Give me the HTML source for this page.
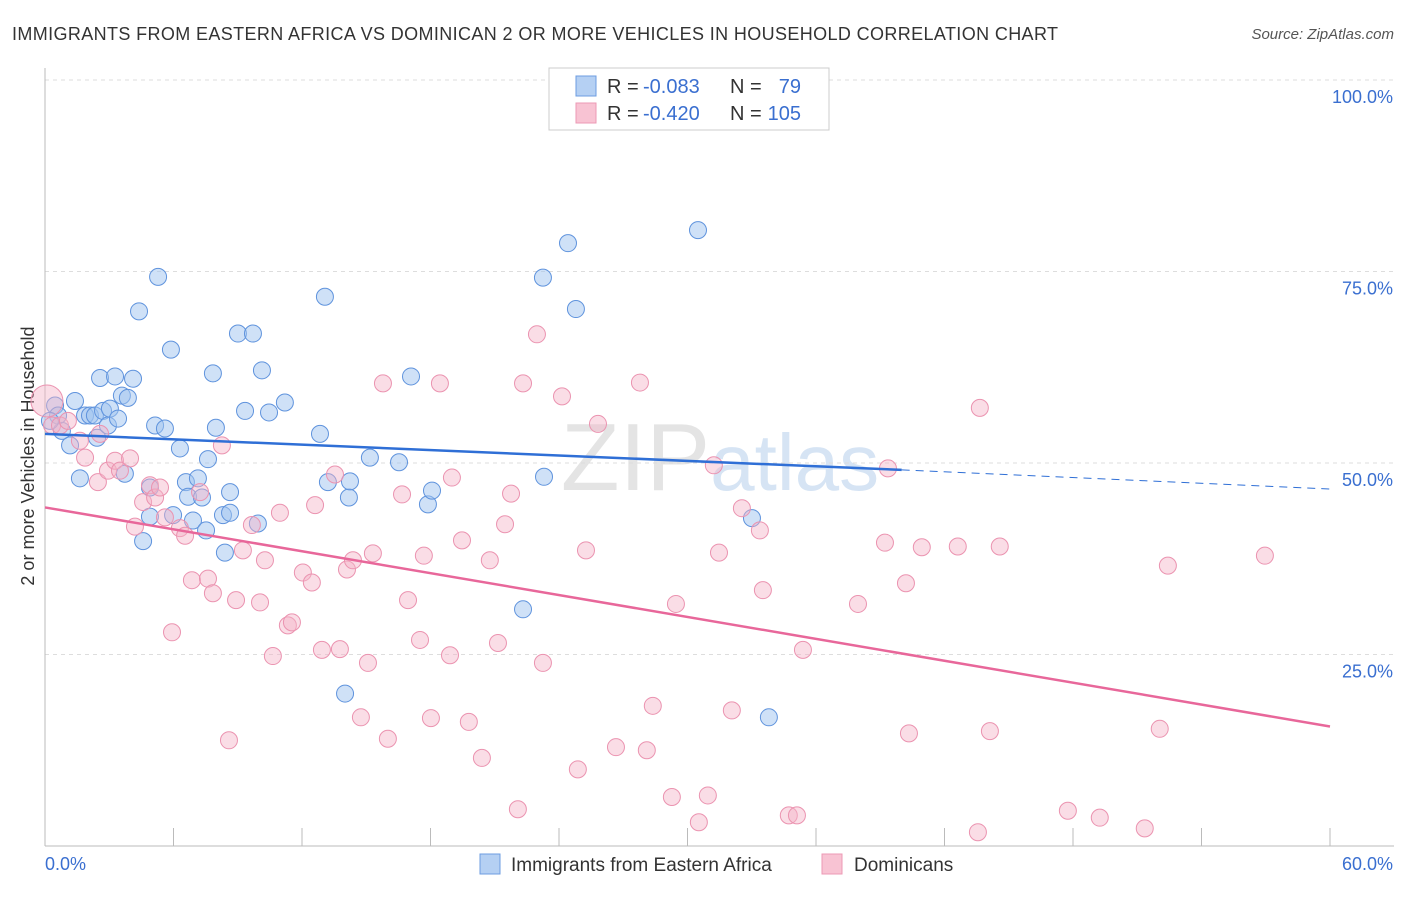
<!DOCTYPE html>
<html><head><meta charset="utf-8"><style>
body{margin:0;background:#fff;font-family:"Liberation Sans",sans-serif;}
svg text{font-family:"Liberation Sans",sans-serif;}
</style></head><body>
<svg id="c" width="1406" height="892">
<text x="12" y="40" font-size="18" fill="#333" textLength="1046">IMMIGRANTS FROM EASTERN AFRICA VS DOMINICAN 2 OR MORE VEHICLES IN HOUSEHOLD CORRELATION CHART</text>
<text x="1394" y="39" font-size="15" fill="#555" text-anchor="end" font-style="italic">Source: ZipAtlas.com</text>
<text x="34" y="456" font-size="18" fill="#333" text-anchor="middle" transform="rotate(-90 34 456)">2 or more Vehicles in Household</text>
<text x="720" y="490" font-size="96" fill="#e4e4e4" text-anchor="middle" font-family="Liberation Serif">ZIP<tspan fill="#d6e4f4" font-family="Liberation Sans" font-size="80">atlas</tspan></text>
<g id="grid"></g><g id="axes"></g><g id="pts"></g><g id="trend"></g>
<g>
<rect x="549" y="68" width="280" height="62" fill="#fff" stroke="#ccc"/>
<rect x="576" y="76" width="20" height="20" fill="#b5d0f3" stroke="#6d9ce0"/>
<rect x="576" y="103" width="20" height="20" fill="#f8c3d3" stroke="#ec9ab5"/>
<g font-size="20">
<text x="607" y="93" fill="#333">R =</text><text x="643" y="93" fill="#3a6fd0">-0.083</text>
<text x="730" y="93" fill="#333">N =</text><text x="801" y="93" fill="#3a6fd0" text-anchor="end">79</text></g>
<g font-size="20">
<text x="607" y="120" fill="#333">R =</text><text x="643" y="120" fill="#3a6fd0">-0.420</text>
<text x="730" y="120" fill="#333">N =</text><text x="801" y="120" fill="#3a6fd0" text-anchor="end">105</text></g>
</g>
<g>
<rect x="480" y="854" width="20" height="20" fill="#b5d0f3" stroke="#6d9ce0"/>
<text x="511" y="871" font-size="19" fill="#333">Immigrants from Eastern Africa</text>
<rect x="822" y="854" width="20" height="20" fill="#f8c3d3" stroke="#ec9ab5"/>
<text x="854" y="871" font-size="19" fill="#333">Dominicans</text>
</g>
</svg>
<script>
const blueX=[0.47,0.61,0.79,0.23,1.17,1.40,1.63,1.87,2.10,2.33,2.43,2.57,2.71,2.94,3.03,3.27,3.41,3.59,3.73,3.87,4.11,4.39,4.58,4.90,5.14,5.28,5.60,5.88,5.98,6.30,6.58,6.68,6.91,7.14,7.33,7.52,7.61,7.84,7.98,8.31,8.40,8.64,8.64,9.01,9.34,9.71,9.94,10.13,10.46,11.20,12.84,13.07,13.21,14.19,14.24,14.01,15.17,16.53,17.09,17.88,18.07,23.25,23.30,24.42,24.79,22.32,30.49,33.01,33.80,4.90];
const blueY=[57.5,56.2,54.2,55.5,52.3,58.1,48.0,56.2,56.2,56.2,53.3,61.1,56.8,54.9,57.1,61.3,55.8,58.8,48.6,58.5,61.0,69.8,39.8,46.8,54.9,74.3,54.5,64.8,43.2,51.9,47.5,45.6,42.5,48.0,45.5,41.2,50.5,61.7,54.6,43.2,38.3,43.5,46.2,66.9,56.8,66.9,42.1,62.1,56.6,57.9,53.8,71.7,47.5,45.5,47.6,19.9,50.7,50.1,61.3,44.6,46.4,74.2,48.2,78.7,70.1,30.9,80.4,42.8,16.8,43.0];
const pinkX=[0.09,0.33,0.70,1.07,1.63,1.87,2.47,2.57,2.94,3.27,3.50,3.97,4.20,4.58,4.90,5.14,5.37,5.60,5.93,6.30,6.54,6.86,7.24,7.61,7.84,8.26,8.59,8.92,9.24,9.66,10.04,10.27,10.64,10.97,11.34,11.53,12.04,12.46,12.61,12.93,13.54,13.77,14.10,14.38,14.75,15.08,15.31,15.78,16.01,16.67,16.95,17.51,17.69,18.02,18.44,18.91,19.00,19.47,19.79,20.40,20.77,21.15,21.48,21.76,22.08,22.32,22.97,23.25,24.14,24.88,25.26,25.82,26.66,27.78,28.10,28.38,29.27,29.46,30.53,30.95,31.23,31.47,32.07,32.54,33.38,33.52,34.73,35.11,35.39,37.96,39.22,39.36,40.20,40.34,40.94,42.62,43.56,43.65,44.12,44.58,47.76,49.25,51.35,52.05,52.43,56.96];
const pinkY=[58.1,54.9,54.9,55.5,52.9,50.7,47.5,53.8,49.0,50.3,49.0,50.6,41.7,44.9,47.1,45.5,46.8,42.9,27.9,41.5,40.5,34.7,46.2,34.9,33.0,52.3,13.8,32.1,38.6,41.9,31.8,37.3,24.8,43.5,28.8,29.2,35.7,34.4,44.5,25.6,48.5,25.7,36.1,37.3,16.8,23.9,38.2,60.4,14.0,45.9,32.1,26.9,37.9,16.7,60.4,24.9,48.1,39.9,16.2,11.5,37.3,26.5,42.0,46.0,4.8,60.4,66.8,23.9,58.7,10.0,38.6,55.1,12.9,60.5,12.5,18.3,6.4,31.6,3.1,6.6,49.7,38.3,17.7,44.1,41.2,33.4,4.0,4.0,25.6,31.6,39.6,49.3,34.3,14.7,39.0,39.1,1.8,57.2,15.0,39.1,4.6,3.7,2.3,15.3,36.6,37.9];
const yTicks=[25,50,75,100];
const yTickLabels=["25.0%","50.0%","75.0%","100.0%"];
const blueTrend=[53.8,49.1,46.6]; // at x=0, 40 (solid end), 60
const pinkTrend=[44.2,15.6]; // at x=0, 60
const NS="http://www.w3.org/2000/svg";
const sx=v=>45+v/60*1285, sy=v=>846-v/100*766;
function mk(p,t,a){const e=document.createElementNS(NS,t);for(const k in a)e.setAttribute(k,a[k]);document.getElementById(p).appendChild(e);return e;}
yTicks.forEach((t,i)=>{
 const l=mk('grid','line',{x1:45,x2:1394,y1:sy(t),y2:sy(t),stroke:'#ddd','stroke-dasharray':'4,4'});
 
 
 const tx=mk('grid','text',{x:1393,y:sy(t)+23,'font-size':18,fill:'#3a6fd0','text-anchor':'end'});
 tx.textContent=yTickLabels[i];
 
 
});
let a=mk('axes','line',{x1:45,x2:45,y1:68,y2:846,stroke:'#bbb'});


a=mk('axes','line',{x1:45,x2:1394,y1:846,y2:846,stroke:'#bbb'});


for(let v=0;v<=60;v+=6){const t=mk('axes','line',{x1:sx(v),x2:sx(v),y1:828,y2:846,stroke:'#bbb'});
 
 }
let xl=mk('axes','text',{x:45,y:870,'font-size':18,fill:'#3a6fd0'});xl.textContent='0.0%';


xl=mk('axes','text',{x:1393,y:870,'font-size':18,fill:'#3a6fd0','text-anchor':'end'});xl.textContent='60.0%';


blueX.forEach((x,i)=>{const c=mk('pts','circle',{cx:sx(x),cy:sy(blueY[i]),r:8.5,fill:'rgba(160,195,240,0.5)',stroke:'#5f93dd','stroke-width':1});
 
 });
pinkX.forEach((x,i)=>{const c=mk('pts','circle',{cx:sx(x),cy:sy(pinkY[i]),r:i==0?16:8.5,fill:'rgba(245,180,200,0.45)',stroke:'#eb93b0','stroke-width':1});
 
 });
let l=mk('trend','line',{x1:sx(0),y1:sy(blueTrend[0]),x2:sx(40),y2:sy(blueTrend[1]),stroke:'#2f6fd6','stroke-width':2.5});


l=mk('trend','line',{x1:sx(40),y1:sy(blueTrend[1]),x2:sx(60),y2:sy(blueTrend[2]),stroke:'#2f6fd6','stroke-width':1,'stroke-dasharray':'8,6'});


l=mk('trend','line',{x1:sx(0),y1:sy(pinkTrend[0]),x2:sx(60),y2:sy(pinkTrend[1]),stroke:'#e8679a','stroke-width':2.5});


</script>
</body></html>
